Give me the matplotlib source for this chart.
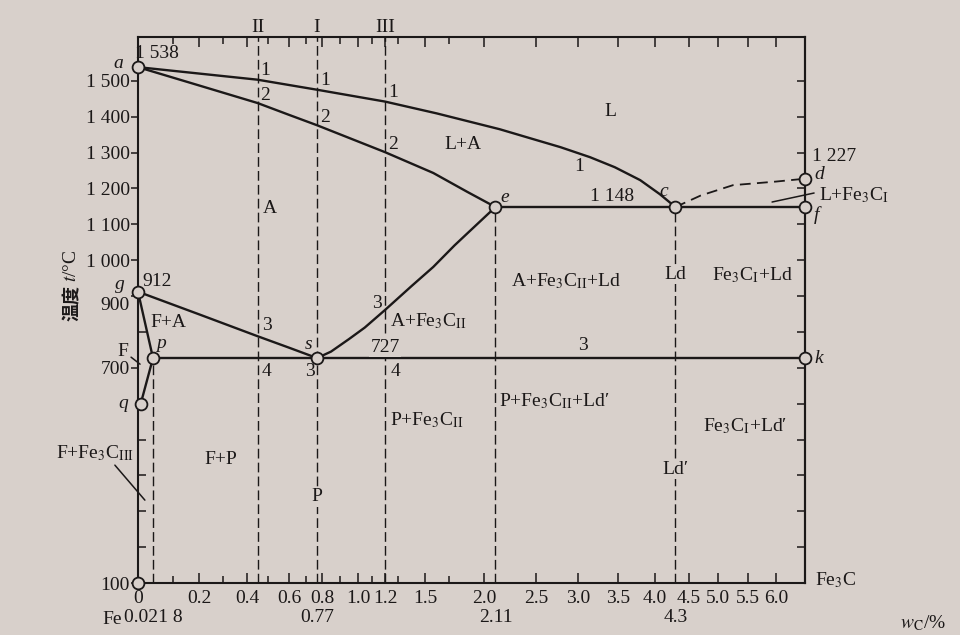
import numpy as np
import matplotlib
matplotlib.use("Agg")
import matplotlib.pyplot as plt
from matplotlib.transforms import ScaledTranslation

plt.rcParams['font.family'] = ['Liberation Serif', 'Noto Sans CJK SC', 'DejaVu Sans']
plt.rcParams['mathtext.fontset'] = 'stix'

# ---------------- data (wt% C, temperature in deg C) ----------------
liquidus_c = [0, 0.45, 0.77, 1.2, 1.6, 2.15, 2.5, 2.79, 3.15, 3.46, 3.8, 4.07, 4.3]
liquidus_t = [1538, 1503, 1475, 1442, 1409, 1365, 1335, 1315, 1287, 1259, 1223, 1184, 1148]
solidus_c = [0, 0.2, 0.45, 0.6, 0.77, 1.2, 1.57, 1.86, 2.11]
solidus_t = [1538, 1487, 1438, 1405, 1376, 1301, 1243, 1190, 1148]
es_c = [0.77, 0.85, 0.95, 1.05, 1.2, 1.4, 1.57, 1.75, 1.86, 2.11]
es_t = [727, 745, 780, 812, 861, 928, 981, 1041, 1075, 1148]
gs_c = [0, 0.2, 0.45, 0.6, 0.77]
gs_t = [912, 849, 788, 756, 727]
gpq_c = [0, 0.0218, 0.004]
gpq_t = [912, 727, 600]
cd_c = [4.3, 4.7, 5.25, 6.0, 6.69]
cd_t = [1148, 1180, 1209, 1219, 1227]
eutectic_c = [2.11, 6.69]
eutectic_t = [1148, 1148]
eutectoid_c = [0.0218, 6.69]
eutectoid_t = [727, 727]

point_names = ['a', 'g', 'p', 'q', 's', 'e', 'c', 'd', 'f', 'k', 'o']
point_c = [0, 0, 0.0218, 0.004, 0.77, 2.11, 4.3, 6.69, 6.69, 6.69, 0]
point_t = [1538, 912, 727, 600, 727, 1148, 1148, 1227, 1148, 727, 100]

alloy_names = ['II', 'I', 'III']
alloy_c = [0.45, 0.77, 1.2]
drop_c = [0.0218, 2.11, 4.3]
drop_top = [727, 1148, 1148]

xtick_vals = [0, 0.2, 0.4, 0.6, 0.8, 1.0, 1.2, 1.5, 2.0, 2.5, 3.0, 3.5, 4.0, 4.5, 5.0, 5.5, 6.0]
xtick_labels = ['0', '0.2', '0.4', '0.6', '0.8', '1.0', '1.2', '1.5', '2.0', '2.5',
                '3.0', '3.5', '4.0', '4.5', '5.0', '5.5', '6.0']
xminor_vals = [0.1, 0.3, 0.5, 0.7, 0.9, 1.1, 1.3, 1.7]
special_c = [0.0218, 0.77, 2.11, 4.3]
special_labels = ['0.021 8', '0.77', '2.11', '4.3']
ytick_vals = [100, 700, 900, 1000, 1100, 1200, 1300, 1400, 1500]
ytick_labels = ['100', '700', '900', '1 000', '1 100', '1 200', '1 300', '1 400', '1 500']
yminor_vals = [200, 300, 400, 500, 600, 800]
yright_vals = list(range(200, 1600, 100))

# ---------------- non-uniform composition axis (layout) ----------------
SCALE_C = np.array([0, 0.0218, 0.2, 0.4, 0.6, 0.8, 1.0, 1.2, 1.5, 2.0, 2.5, 3.0,
                    3.5, 4.0, 4.5, 5.0, 5.5, 6.0, 6.69])
SCALE_PX = np.array([138, 153, 199, 247, 289, 322, 358, 385, 425, 484, 536, 578,
                     618, 655, 689, 718, 748, 776, 805], dtype=float)


def _pw(x, xs, ys):
    x = np.asarray(x, dtype=float)
    y = np.interp(x, xs, ys)
    s0 = (ys[1] - ys[0]) / (xs[1] - xs[0])
    s1 = (ys[-1] - ys[-2]) / (xs[-1] - xs[-2])
    y = np.where(x < xs[0], ys[0] + (x - xs[0]) * s0, y)
    y = np.where(x > xs[-1], ys[-1] + (x - xs[-1]) * s1, y)
    return y


def fwd(x):
    return _pw(x, SCALE_C, SCALE_PX)


def inv(p):
    return _pw(p, SCALE_PX, SCALE_C)


BG = '#d8d0cb'
INK = '#1b1818'
FS = 14

fig = plt.figure(figsize=(9.6, 6.35), dpi=100, facecolor=BG)
ax = fig.add_axes([138 / 960, (635 - 583) / 635, (805 - 138) / 960, (583 - 37) / 635],
                  facecolor=BG)
ax.set_xscale('function', functions=(fwd, inv))
ax.set_xlim(0, 6.69)
ax.set_ylim(100, 1622)

for sp in ax.spines.values():
    sp.set_linewidth(1.5)
    sp.set_color(INK)

# ticks
ax.set_xticks(xtick_vals)
ax.set_xticklabels(xtick_labels, fontsize=FS, color=INK)
ax.set_xticks(xminor_vals, minor=True)
ax.tick_params(axis='x', which='both', direction='in', top=True, bottom=True,
               labeltop=False, color=INK, width=1.1)
ax.tick_params(axis='x', which='major', length=7, pad=5)
ax.tick_params(axis='x', which='minor', length=5)
ax.set_yticks(ytick_vals)
ax.set_yticklabels(ytick_labels, fontsize=FS, color=INK)
ax.set_yticks(yminor_vals, minor=True)
ax.tick_params(axis='y', which='major', direction='out', length=5, pad=1, width=1.1,
               color=INK, right=False)
ax.tick_params(axis='y', which='minor', direction='in', length=6, width=1.1,
               color=INK, right=False)
for tl in ax.get_yticklabels():
    if tl.get_text() == '900':
        tl.set_transform(tl.get_transform() + ScaledTranslation(0, -7 / 100, fig.dpi_scale_trans))
sec = ax.secondary_yaxis('right')
sec.set_yticks(yright_vals)
sec.tick_params(axis='y', direction='in', length=6, width=1.1, color=INK, labelright=False)
sec.spines['right'].set_linewidth(1.5)
sec.spines['right'].set_color(INK)

# y-axis title: Chinese part and symbol part as two texts
fig.text(72 / 960, 1 - 303 / 635, '温度', rotation=90, ha='center', va='center',
         fontsize=13, fontweight='bold', color=INK, family=['Noto Sans CJK SC'])
fig.text(72 / 960, 1 - 266 / 635, '$t$/°C', rotation=90, ha='center', va='center',
         fontsize=14, color=INK)

# dashed alloy / composition lines
dash = dict(color=INK, lw=1.0, dashes=(7, 3), zorder=1)
for c in alloy_c:
    ax.plot([c, c], [100, 1622], **dash)
for c, top in zip(drop_c, drop_top):
    ax.plot([c, c], [100, top], **dash)
ax.plot(cd_c, cd_t, color=INK, lw=1.3, dashes=(6, 3.5), zorder=2)

# solid phase boundaries
solid = dict(color=INK, lw=1.7, zorder=3, solid_joinstyle='round', solid_capstyle='round')
ax.plot(liquidus_c, liquidus_t, **solid)
ax.plot(solidus_c, solidus_t, **solid)
ax.plot(es_c, es_t, **solid)
ax.plot(gs_c, gs_t, **solid)
ax.plot(gpq_c, gpq_t, **solid)
ax.plot(eutectic_c, eutectic_t, **solid)
ax.plot(eutectoid_c, eutectoid_t, **solid)

ax.plot(point_c, point_t, 'o', ms=8.5, mfc=BG, mec=INK, mew=1.3, clip_on=False,
        zorder=6, linestyle='none')


def lab(s, xy, dx=0, dy=0, ha='center', va='center', bg=False, xycoords='data', **kw):
    extra = {}
    if bg:
        extra['bbox'] = dict(fc=BG, ec='none', pad=0.8)
    ax.annotate(s, xy=xy, xycoords=xycoords, xytext=(dx, dy), textcoords='offset pixels',
                ha=ha, va=va, fontsize=FS, color=INK, annotation_clip=False, zorder=7,
                **extra, **kw)


def leader(xy, dx, dy):
    ax.annotate('', xy=xy, xytext=(dx, dy), textcoords='offset pixels',
                annotation_clip=False,
                arrowprops=dict(arrowstyle='-', color=INK, lw=1.1, shrinkA=0, shrinkB=0))


P = {n: (c, t) for n, c, t in zip(point_names, point_c, point_t)}
it = dict(style='italic')
lab('a', P['a'], -20, 4, **it)
lab('1 538', P['a'], -3, 14, ha='left')
lab('g', P['g'], -18, 7, **it)
lab('912', P['g'], 4, 10, ha='left')
lab('p', P['p'], 8, 15, **it)
lab('q', P['q'], -18, 0, **it)
lab('s', P['s'], -8, 14, **it)
lab('3', P['s'], -7, -13)
lab('e', P['e'], 9, 10, **it)
lab('c', P['c'], -12, 16, **it)
lab('d', P['d'], 14, 4, **it)
lab('1 227', P['d'], 7, 22, ha='left')
lab('f', P['f'], 11, -8, **it)
lab('k', P['k'], 14, 0, **it)
lab('1 148', (3.42, 1148), 0, 11)

# alloy numerals and point numbers
for name, c in zip(alloy_names, alloy_c):
    lab(name, (c, 1.0), 0, 10, xycoords=('data', 'axes fraction'))
for c in alloy_c:
    lab('1', (c, np.interp(c, liquidus_c, liquidus_t)), 8, 9)
    lab('2', (c, np.interp(c, solidus_c, solidus_t)), 8, 8)
lab('3', (0.45, np.interp(0.45, gs_c, gs_t)), 9, 11)
lab('4', (0.45, 727), 9, -13)
lab('3', (1.2, np.interp(1.2, es_c, es_t)), -8, 6)
lab('4', (1.2, 727), 10, -13)
lab('727', (1.2, 727), 0, 11, bg=True)
lab('1', (3.06, np.interp(3.06, liquidus_c, liquidus_t)), -4, -12)
lab('3', (3.06, 727), 0, 13)

# phase-region labels
lab('L', (3.4, 1415))
lab('L+A', (1.82, 1323))
lab('A', (0.51, 1144))
lab('F+A', (0.08, 825))
lab('A+Fe$_3$C$_{\\rm II}$', (1.24, 830), ha='left')
lab('A+Fe$_3$C$_{\\rm II}$+Ld', (2.86, 941))
lab('Ld', (4.3, 960), bg=True)
lab('Fe$_3$C$_{\\rm I}$+Ld', (5.57, 959))
lab('P+Fe$_3$C$_{\\rm II}$', (1.24, 554), ha='left')
lab('P+Fe$_3$C$_{\\rm II}$+Ld′', (2.14, 608), ha='left')
lab('Fe$_3$C$_{\\rm I}$+Ld′', (5.45, 538))
lab('Ld′', (4.3, 417), bg=True)
lab('F+P', (0.29, 443))
lab('P', (0.77, 340), bg=True)

# labels with leader lines
lab('F', (0.003, 710), -17, 13)
leader((0.003, 710), -9, 7)
lab('F+Fe$_3$C$_{\\rm III}$', (0.01, 331), -50, 47)
leader((0.01, 331), -30, 35)
lab('L+Fe$_3$C$_{\\rm I}$', P['f'], 14, 12, ha='left')
leader((5.93, 1162), 42, 9)

# second row of composition labels and axis end labels
for c, s in zip(special_c, special_labels):
    lab(s, (c, 0), 0, -34, xycoords=('data', 'axes fraction'))
lab('Fe', (0, 0), -26, -37, xycoords=('data', 'axes fraction'))
lab('Fe$_3$C', (6.69, 0), 10, 3, ha='left', xycoords=('data', 'axes fraction'))
lab('$w_{\\rm C}$/%', (6.69, 0), 118, -40, xycoords=('data', 'axes fraction'))

fig.savefig('out.png', dpi=100, facecolor=BG)
